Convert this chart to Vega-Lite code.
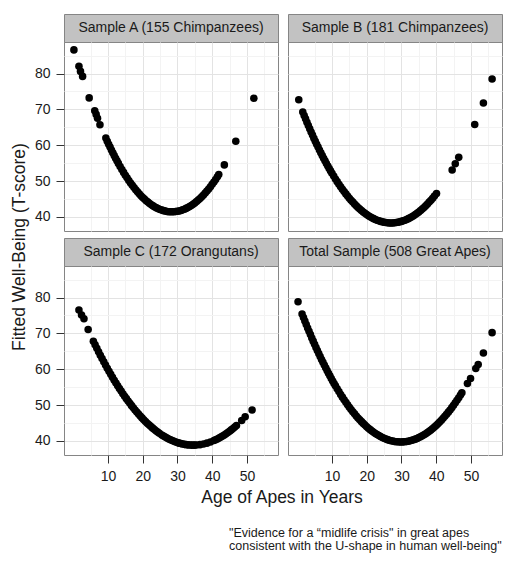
{
  "$schema": "https://vega.github.io/schema/vega-lite/v6.json",
  "padding": {"left": 10, "top": 13, "right": 5, "bottom": 5},
  "datasets": {
    "A": [
      {"age": 0.2, "wb": 86.6}, {"age": 1.65, "wb": 82.0}, {"age": 2.1, "wb": 80.6}, {"age": 2.7, "wb": 79.2},
      {"age": 4.6, "wb": 73.2}, {"age": 6.2, "wb": 69.6}, {"age": 6.6, "wb": 68.6}, {"age": 7.0, "wb": 67.5},
      {"age": 7.7, "wb": 65.7},
      {"age": 9.4, "wb": 61.98}, {"age": 9.8, "wb": 61.12}, {"age": 10.2, "wb": 60.28}, {"age": 10.6, "wb": 59.46},
      {"age": 11.0, "wb": 58.66}, {"age": 11.4, "wb": 57.87}, {"age": 11.8, "wb": 57.11}, {"age": 12.2, "wb": 56.36},
      {"age": 12.6, "wb": 55.63}, {"age": 13.0, "wb": 54.92}, {"age": 13.5, "wb": 54.05}, {"age": 14.0, "wb": 53.22},
      {"age": 14.5, "wb": 52.41}, {"age": 15.0, "wb": 51.63}, {"age": 15.5, "wb": 50.89}, {"age": 16.0, "wb": 50.16},
      {"age": 16.5, "wb": 49.47}, {"age": 17.0, "wb": 48.81}, {"age": 17.5, "wb": 48.17}, {"age": 18.0, "wb": 47.57},
      {"age": 18.5, "wb": 46.99}, {"age": 19.0, "wb": 46.44}, {"age": 19.5, "wb": 45.91}, {"age": 20.0, "wb": 45.42},
      {"age": 20.5, "wb": 44.96}, {"age": 21.0, "wb": 44.52}, {"age": 21.5, "wb": 44.11}, {"age": 22.0, "wb": 43.73},
      {"age": 22.5, "wb": 43.38}, {"age": 23, "wb": 43.06}, {"age": 23.5, "wb": 42.77}, {"age": 24, "wb": 42.50},
      {"age": 24.5, "wb": 42.27}, {"age": 25, "wb": 42.06}, {"age": 25.5, "wb": 41.88}, {"age": 26, "wb": 41.73},
      {"age": 26.5, "wb": 41.61}, {"age": 27, "wb": 41.51}, {"age": 27.5, "wb": 41.45}, {"age": 28, "wb": 41.41},
      {"age": 28.5, "wb": 41.40}, {"age": 29, "wb": 41.42}, {"age": 29.5, "wb": 41.47}, {"age": 30, "wb": 41.55},
      {"age": 30.5, "wb": 41.65}, {"age": 31, "wb": 41.79}, {"age": 31.5, "wb": 41.95}, {"age": 32, "wb": 42.14},
      {"age": 32.5, "wb": 42.36}, {"age": 33, "wb": 42.61}, {"age": 33.5, "wb": 42.88}, {"age": 34, "wb": 43.19},
      {"age": 34.5, "wb": 43.52}, {"age": 35, "wb": 43.88}, {"age": 35.5, "wb": 44.27}, {"age": 36, "wb": 44.69},
      {"age": 36.5, "wb": 45.14}, {"age": 37, "wb": 45.62}, {"age": 37.5, "wb": 46.12}, {"age": 38, "wb": 46.65},
      {"age": 38.5, "wb": 47.21}, {"age": 39, "wb": 47.80}, {"age": 39.5, "wb": 48.42}, {"age": 40, "wb": 49.07},
      {"age": 40.5, "wb": 49.75}, {"age": 41, "wb": 50.45}, {"age": 41.5, "wb": 51.18}, {"age": 41.9, "wb": 51.79},
      {"age": 43.5, "wb": 54.5}, {"age": 46.8, "wb": 61.1}, {"age": 52.0, "wb": 73.1}
    ],
    "B": [
      {"age": 0.45, "wb": 72.7},
      {"age": 1.6, "wb": 69.27}, {"age": 2.0, "wb": 68.30}, {"age": 2.4, "wb": 67.35}, {"age": 2.8, "wb": 66.41},
      {"age": 3.2, "wb": 65.49}, {"age": 3.6, "wb": 64.58}, {"age": 4.0, "wb": 63.69}, {"age": 4.4, "wb": 62.82},
      {"age": 4.8, "wb": 61.96}, {"age": 5.2, "wb": 61.11}, {"age": 5.6, "wb": 60.28}, {"age": 6.0, "wb": 59.47},
      {"age": 6.4, "wb": 58.67}, {"age": 6.8, "wb": 57.89}, {"age": 7.2, "wb": 57.12}, {"age": 7.6, "wb": 56.37},
      {"age": 8.0, "wb": 55.63}, {"age": 8.4, "wb": 54.91}, {"age": 8.8, "wb": 54.20}, {"age": 9.2, "wb": 53.51},
      {"age": 9.6, "wb": 52.83}, {"age": 10.0, "wb": 52.17}, {"age": 10.5, "wb": 51.37}, {"age": 11.0, "wb": 50.59},
      {"age": 11.5, "wb": 49.83}, {"age": 12.0, "wb": 49.10}, {"age": 12.5, "wb": 48.39}, {"age": 13.0, "wb": 47.71},
      {"age": 13.5, "wb": 47.05}, {"age": 14.0, "wb": 46.41}, {"age": 14.5, "wb": 45.80}, {"age": 15.0, "wb": 45.21},
      {"age": 15.5, "wb": 44.65}, {"age": 16.0, "wb": 44.11}, {"age": 16.5, "wb": 43.59}, {"age": 17.0, "wb": 43.10},
      {"age": 17.5, "wb": 42.63}, {"age": 18.0, "wb": 42.19}, {"age": 18.5, "wb": 41.77}, {"age": 19.0, "wb": 41.37},
      {"age": 19.5, "wb": 41.00}, {"age": 20.0, "wb": 40.65}, {"age": 20.5, "wb": 40.33}, {"age": 21, "wb": 40.03},
      {"age": 21.5, "wb": 39.75}, {"age": 22, "wb": 39.50}, {"age": 22.5, "wb": 39.27}, {"age": 23, "wb": 39.07},
      {"age": 23.5, "wb": 38.89}, {"age": 24, "wb": 38.73}, {"age": 24.5, "wb": 38.60}, {"age": 25, "wb": 38.49},
      {"age": 25.5, "wb": 38.41}, {"age": 26, "wb": 38.35}, {"age": 26.5, "wb": 38.31}, {"age": 27, "wb": 38.30},
      {"age": 27.5, "wb": 38.31}, {"age": 28, "wb": 38.35}, {"age": 28.5, "wb": 38.41}, {"age": 29, "wb": 38.49},
      {"age": 29.5, "wb": 38.60}, {"age": 30, "wb": 38.73}, {"age": 30.5, "wb": 38.89}, {"age": 31, "wb": 39.07},
      {"age": 31.5, "wb": 39.27}, {"age": 32, "wb": 39.50}, {"age": 32.5, "wb": 39.75}, {"age": 33, "wb": 40.03},
      {"age": 33.5, "wb": 40.33}, {"age": 34, "wb": 40.65}, {"age": 34.5, "wb": 41.00}, {"age": 35, "wb": 41.37},
      {"age": 35.5, "wb": 41.77}, {"age": 36, "wb": 42.19}, {"age": 36.5, "wb": 42.63}, {"age": 37, "wb": 43.10},
      {"age": 37.5, "wb": 43.59}, {"age": 38, "wb": 44.11}, {"age": 38.5, "wb": 44.65}, {"age": 39, "wb": 45.21},
      {"age": 39.5, "wb": 45.80}, {"age": 40.1, "wb": 46.54},
      {"age": 44.6, "wb": 53.1}, {"age": 45.5, "wb": 54.8}, {"age": 46.5, "wb": 56.6},
      {"age": 51.1, "wb": 65.8}, {"age": 53.6, "wb": 71.8}, {"age": 56.1, "wb": 78.5}
    ],
    "C": [
      {"age": 1.65, "wb": 76.5}, {"age": 2.4, "wb": 75.1}, {"age": 3.1, "wb": 74.1}, {"age": 4.3, "wb": 71.1},
      {"age": 5.8, "wb": 67.79}, {"age": 6.3, "wb": 66.79}, {"age": 6.8, "wb": 65.81}, {"age": 7.3, "wb": 64.84},
      {"age": 7.8, "wb": 63.89}, {"age": 8.3, "wb": 62.96}, {"age": 8.8, "wb": 62.05}, {"age": 9.3, "wb": 61.15},
      {"age": 9.8, "wb": 60.28}, {"age": 10.3, "wb": 59.41}, {"age": 10.8, "wb": 58.57}, {"age": 11.3, "wb": 57.75},
      {"age": 11.8, "wb": 56.94}, {"age": 12.3, "wb": 56.15}, {"age": 12.8, "wb": 55.38}, {"age": 13.3, "wb": 54.62},
      {"age": 13.8, "wb": 53.88}, {"age": 14.3, "wb": 53.16}, {"age": 14.8, "wb": 52.46}, {"age": 15.3, "wb": 51.78},
      {"age": 15.8, "wb": 51.11}, {"age": 16.3, "wb": 50.46}, {"age": 16.8, "wb": 49.83}, {"age": 17.3, "wb": 49.21},
      {"age": 17.8, "wb": 48.62}, {"age": 18.3, "wb": 48.04}, {"age": 18.8, "wb": 47.48}, {"age": 19.3, "wb": 46.93},
      {"age": 19.8, "wb": 46.41}, {"age": 20.3, "wb": 45.90}, {"age": 20.8, "wb": 45.41}, {"age": 21.3, "wb": 44.93},
      {"age": 21.8, "wb": 44.48}, {"age": 22.3, "wb": 44.04}, {"age": 22.8, "wb": 43.62}, {"age": 23.3, "wb": 43.22},
      {"age": 23.8, "wb": 42.83}, {"age": 24.3, "wb": 42.46}, {"age": 24.8, "wb": 42.11}, {"age": 25.5, "wb": 41.65},
      {"age": 26, "wb": 41.34}, {"age": 26.5, "wb": 41.05}, {"age": 27, "wb": 40.78}, {"age": 27.5, "wb": 40.52},
      {"age": 28, "wb": 40.29}, {"age": 28.5, "wb": 40.07}, {"age": 29, "wb": 39.86}, {"age": 29.5, "wb": 39.68},
      {"age": 30, "wb": 39.51}, {"age": 30.5, "wb": 39.36}, {"age": 31, "wb": 39.23}, {"age": 31.5, "wb": 39.12},
      {"age": 32, "wb": 39.02}, {"age": 32.5, "wb": 38.94}, {"age": 33, "wb": 38.88}, {"age": 33.5, "wb": 38.84},
      {"age": 34, "wb": 38.81}, {"age": 34.5, "wb": 38.80}, {"age": 35, "wb": 38.81}, {"age": 35.5, "wb": 38.84},
      {"age": 36.5, "wb": 38.94}, {"age": 37.5, "wb": 39.12}, {"age": 38.5, "wb": 39.36}, {"age": 39.5, "wb": 39.68},
      {"age": 40.5, "wb": 40.07}, {"age": 41, "wb": 40.29}, {"age": 41.5, "wb": 40.52}, {"age": 42, "wb": 40.78},
      {"age": 42.5, "wb": 41.05}, {"age": 43, "wb": 41.34}, {"age": 43.5, "wb": 41.65}, {"age": 44, "wb": 41.98},
      {"age": 44.5, "wb": 42.32}, {"age": 45, "wb": 42.68}, {"age": 45.5, "wb": 43.06}, {"age": 46, "wb": 43.46},
      {"age": 46.5, "wb": 43.87}, {"age": 47, "wb": 44.30},
      {"age": 48.5, "wb": 45.7}, {"age": 49.5, "wb": 46.7}, {"age": 51.5, "wb": 48.6}
    ],
    "T": [
      {"age": 0.24, "wb": 78.8},
      {"age": 1.4, "wb": 75.43}, {"age": 1.8, "wb": 74.43}, {"age": 2.2, "wb": 73.45}, {"age": 2.6, "wb": 72.47},
      {"age": 3.0, "wb": 71.52}, {"age": 3.4, "wb": 70.58}, {"age": 3.8, "wb": 69.65}, {"age": 4.2, "wb": 68.73},
      {"age": 4.6, "wb": 67.83}, {"age": 5.0, "wb": 66.95}, {"age": 5.4, "wb": 66.07}, {"age": 5.8, "wb": 65.22},
      {"age": 6.2, "wb": 64.37}, {"age": 6.6, "wb": 63.54}, {"age": 7.0, "wb": 62.73}, {"age": 7.4, "wb": 61.93},
      {"age": 7.8, "wb": 61.14}, {"age": 8.2, "wb": 60.37}, {"age": 8.6, "wb": 59.61}, {"age": 9.0, "wb": 58.87},
      {"age": 9.4, "wb": 58.14}, {"age": 9.8, "wb": 57.42}, {"age": 10.2, "wb": 56.72}, {"age": 10.6, "wb": 56.03},
      {"age": 11.0, "wb": 55.36}, {"age": 11.5, "wb": 54.54}, {"age": 12.0, "wb": 53.74}, {"age": 12.5, "wb": 52.96},
      {"age": 13.0, "wb": 52.20}, {"age": 13.5, "wb": 51.47}, {"age": 14.0, "wb": 50.76}, {"age": 14.5, "wb": 50.07},
      {"age": 15.0, "wb": 49.40}, {"age": 15.5, "wb": 48.76}, {"age": 16.0, "wb": 48.14}, {"age": 16.5, "wb": 47.54},
      {"age": 17.0, "wb": 46.96}, {"age": 17.5, "wb": 46.40}, {"age": 18.0, "wb": 45.87}, {"age": 18.5, "wb": 45.36},
      {"age": 19.0, "wb": 44.87}, {"age": 19.5, "wb": 44.40}, {"age": 20.0, "wb": 43.95}, {"age": 20.5, "wb": 43.53},
      {"age": 21.0, "wb": 43.13}, {"age": 21.5, "wb": 42.76}, {"age": 22, "wb": 42.40}, {"age": 22.5, "wb": 42.06},
      {"age": 23, "wb": 41.75}, {"age": 23.5, "wb": 41.46}, {"age": 24, "wb": 41.19}, {"age": 24.5, "wb": 40.94},
      {"age": 25, "wb": 40.72}, {"age": 25.5, "wb": 40.52}, {"age": 26, "wb": 40.34}, {"age": 26.5, "wb": 40.18},
      {"age": 27, "wb": 40.05}, {"age": 27.5, "wb": 39.93}, {"age": 28, "wb": 39.84}, {"age": 28.5, "wb": 39.77},
      {"age": 29, "wb": 39.73}, {"age": 29.5, "wb": 39.70}, {"age": 30, "wb": 39.70}, {"age": 30.5, "wb": 39.72},
      {"age": 31, "wb": 39.76}, {"age": 31.5, "wb": 39.83}, {"age": 32, "wb": 39.91}, {"age": 32.5, "wb": 40.02},
      {"age": 33, "wb": 40.15}, {"age": 33.5, "wb": 40.31}, {"age": 34, "wb": 40.48}, {"age": 34.5, "wb": 40.68},
      {"age": 35, "wb": 40.90}, {"age": 35.5, "wb": 41.14}, {"age": 36, "wb": 41.40}, {"age": 36.5, "wb": 41.69},
      {"age": 37, "wb": 42.00}, {"age": 37.5, "wb": 42.33}, {"age": 38, "wb": 42.68}, {"age": 38.5, "wb": 43.05},
      {"age": 39, "wb": 43.45}, {"age": 39.5, "wb": 43.87}, {"age": 40, "wb": 44.31}, {"age": 40.5, "wb": 44.77},
      {"age": 41, "wb": 45.26}, {"age": 41.5, "wb": 45.76}, {"age": 42, "wb": 46.29}, {"age": 42.5, "wb": 46.85},
      {"age": 43, "wb": 47.42}, {"age": 43.5, "wb": 48.01}, {"age": 44, "wb": 48.63}, {"age": 44.5, "wb": 49.27},
      {"age": 45, "wb": 49.94}, {"age": 45.5, "wb": 50.62}, {"age": 46, "wb": 51.33}, {"age": 46.5, "wb": 52.05},
      {"age": 47, "wb": 52.81}, {"age": 47.4, "wb": 53.42},
      {"age": 49.0, "wb": 56.0}, {"age": 49.9, "wb": 57.4}, {"age": 51.4, "wb": 60.2}, {"age": 52.1, "wb": 61.3},
      {"age": 53.6, "wb": 64.5}, {"age": 56.1, "wb": 70.2}
    ]
  },
  "title": {
    "text": ["\"Evidence for a “midlife crisis\" in great apes", "consistent with the U-shape in human well-being\""],
    "orient": "bottom",
    "anchor": "start",
    "frame": "group",
    "align": "left",
    "dx": 218,
    "offset": 20,
    "fontSize": 12.5,
    "fontWeight": "normal",
    "lineHeight": 12.5,
    "color": "#1a1a1a"
  },
  "spacing": 4,
  "hconcat": [
    {
      "width": 18,
      "height": 466,
      "data": {"values": [{"t": "Fitted Well-Being (T-score)"}]},
      "mark": {"type": "text", "angle": 270, "fontSize": 17.5, "color": "#1a1a1a"},
      "encoding": {"text": {"field": "t"}}
    },
    {
      "spacing": 5,
      "vconcat": [
        {
          "spacing": 8,
          "hconcat": [
            {
              "spacing": 0,
              "bounds": "flush",
              "vconcat": [
                {
                  "width": 214, "height": 28,
                  "view": {"fill": "#c2c2c2", "stroke": "#858585"},
                  "data": {"values": [{"label": "Sample A (155 Chimpanzees)"}]},
                  "mark": {"type": "text", "fontSize": 14, "color": "#1a1a1a"},
                  "encoding": {"text": {"field": "label"}}
                },
                {
                  "width": 214, "height": 189,
                  "view": {"stroke": "#858585"},
                  "data": {"name": "A"},
                  "mark": {"type": "circle", "size": 57, "color": "#000000", "opacity": 1},
                  "encoding": {
                    "x": {"field": "age", "type": "quantitative", "scale": {"domain": [-2.65, 58.95], "nice": false, "zero": false},
                      "axis": {"values": [5, 10, 15, 20, 25, 30, 35, 40, 45, 50, 55], "title": null, "domain": false, "ticks": false, "labels": false, "grid": true,
                        "gridColor": {"condition": {"test": "datum.value % 10 === 0", "value": "#e3e3e3"}, "value": "#f3f3f3"}}},
                    "y": {"field": "wb", "type": "quantitative", "scale": {"domain": [36.05, 88.8], "nice": false, "zero": false},
                      "axis": {"values": [40, 45, 50, 55, 60, 65, 70, 75, 80, 85], "title": null, "domain": false, "grid": true,
                        "gridColor": {"condition": {"test": "datum.value % 10 === 0", "value": "#e3e3e3"}, "value": "#f3f3f3"},
                        "tickSize": 8, "tickColor": "#333333",
                        "tickOpacity": {"condition": {"test": "datum.value % 10 === 0", "value": 1}, "value": 0},
                        "labelExpr": "datum.value % 10 === 0 ? datum.label : ''",
                        "labelFontSize": 14, "labelColor": "#1a1a1a", "labelPadding": 6, "labelOverlap": false, "labelFlush": false}}
                  }
                }
              ]
            },
            {
              "spacing": 0,
              "bounds": "flush",
              "vconcat": [
                {
                  "width": 214, "height": 28,
                  "view": {"fill": "#c2c2c2", "stroke": "#858585"},
                  "data": {"values": [{"label": "Sample B (181 Chimpanzees)"}]},
                  "mark": {"type": "text", "fontSize": 14, "color": "#1a1a1a"},
                  "encoding": {"text": {"field": "label"}}
                },
                {
                  "width": 214, "height": 189,
                  "view": {"stroke": "#858585"},
                  "data": {"name": "B"},
                  "mark": {"type": "circle", "size": 57, "color": "#000000", "opacity": 1},
                  "encoding": {
                    "x": {"field": "age", "type": "quantitative", "scale": {"domain": [-2.65, 58.95], "nice": false, "zero": false},
                      "axis": {"values": [5, 10, 15, 20, 25, 30, 35, 40, 45, 50, 55], "title": null, "domain": false, "ticks": false, "labels": false, "grid": true,
                        "gridColor": {"condition": {"test": "datum.value % 10 === 0", "value": "#e3e3e3"}, "value": "#f3f3f3"}}},
                    "y": {"field": "wb", "type": "quantitative", "scale": {"domain": [36.05, 88.8], "nice": false, "zero": false},
                      "axis": {"values": [40, 45, 50, 55, 60, 65, 70, 75, 80, 85], "title": null, "domain": false, "ticks": false, "labels": false, "grid": true,
                        "gridColor": {"condition": {"test": "datum.value % 10 === 0", "value": "#e3e3e3"}, "value": "#f3f3f3"}}}
                  }
                }
              ]
            }
          ]
        },
        {
          "spacing": 8,
          "hconcat": [
            {
              "spacing": 0,
              "bounds": "flush",
              "vconcat": [
                {
                  "width": 214, "height": 28,
                  "view": {"fill": "#c2c2c2", "stroke": "#858585"},
                  "data": {"values": [{"label": "Sample C (172 Orangutans)"}]},
                  "mark": {"type": "text", "fontSize": 14, "color": "#1a1a1a"},
                  "encoding": {"text": {"field": "label"}}
                },
                {
                  "width": 214, "height": 189,
                  "view": {"stroke": "#858585"},
                  "data": {"name": "C"},
                  "mark": {"type": "circle", "size": 57, "color": "#000000", "opacity": 1},
                  "encoding": {
                    "x": {"field": "age", "type": "quantitative", "scale": {"domain": [-2.65, 58.95], "nice": false, "zero": false},
                      "axis": {"values": [5, 10, 15, 20, 25, 30, 35, 40, 45, 50, 55], "title": null, "domain": false, "grid": true,
                        "gridColor": {"condition": {"test": "datum.value % 10 === 0", "value": "#e3e3e3"}, "value": "#f3f3f3"},
                        "tickSize": 8, "tickColor": "#333333",
                        "tickOpacity": {"condition": {"test": "datum.value % 10 === 0", "value": 1}, "value": 0},
                        "labelExpr": "datum.value % 10 === 0 ? datum.label : ''",
                        "labelFontSize": 14, "labelColor": "#1a1a1a", "labelPadding": 6, "labelOverlap": false, "labelFlush": false}},
                    "y": {"field": "wb", "type": "quantitative", "scale": {"domain": [36.05, 88.8], "nice": false, "zero": false},
                      "axis": {"values": [40, 45, 50, 55, 60, 65, 70, 75, 80, 85], "title": null, "domain": false, "grid": true,
                        "gridColor": {"condition": {"test": "datum.value % 10 === 0", "value": "#e3e3e3"}, "value": "#f3f3f3"},
                        "tickSize": 8, "tickColor": "#333333",
                        "tickOpacity": {"condition": {"test": "datum.value % 10 === 0", "value": 1}, "value": 0},
                        "labelExpr": "datum.value % 10 === 0 ? datum.label : ''",
                        "labelFontSize": 14, "labelColor": "#1a1a1a", "labelPadding": 6, "labelOverlap": false, "labelFlush": false}}
                  }
                }
              ]
            },
            {
              "spacing": 0,
              "bounds": "flush",
              "vconcat": [
                {
                  "width": 214, "height": 28,
                  "view": {"fill": "#c2c2c2", "stroke": "#858585"},
                  "data": {"values": [{"label": "Total Sample (508 Great Apes)"}]},
                  "mark": {"type": "text", "fontSize": 14, "color": "#1a1a1a"},
                  "encoding": {"text": {"field": "label"}}
                },
                {
                  "width": 214, "height": 189,
                  "view": {"stroke": "#858585"},
                  "data": {"name": "T"},
                  "mark": {"type": "circle", "size": 57, "color": "#000000", "opacity": 1},
                  "encoding": {
                    "x": {"field": "age", "type": "quantitative", "scale": {"domain": [-2.65, 58.95], "nice": false, "zero": false},
                      "axis": {"values": [5, 10, 15, 20, 25, 30, 35, 40, 45, 50, 55], "title": null, "domain": false, "grid": true,
                        "gridColor": {"condition": {"test": "datum.value % 10 === 0", "value": "#e3e3e3"}, "value": "#f3f3f3"},
                        "tickSize": 8, "tickColor": "#333333",
                        "tickOpacity": {"condition": {"test": "datum.value % 10 === 0", "value": 1}, "value": 0},
                        "labelExpr": "datum.value % 10 === 0 ? datum.label : ''",
                        "labelFontSize": 14, "labelColor": "#1a1a1a", "labelPadding": 6, "labelOverlap": false, "labelFlush": false}},
                    "y": {"field": "wb", "type": "quantitative", "scale": {"domain": [36.05, 88.8], "nice": false, "zero": false},
                      "axis": {"values": [40, 45, 50, 55, 60, 65, 70, 75, 80, 85], "title": null, "domain": false, "ticks": false, "labels": false, "grid": true,
                        "gridColor": {"condition": {"test": "datum.value % 10 === 0", "value": "#e3e3e3"}, "value": "#f3f3f3"}}}
                  }
                }
              ]
            }
          ]
        },
        {
          "width": 436,
          "height": 18,
          "data": {"values": [{"t": "Age of Apes in Years"}]},
          "mark": {"type": "text", "fontSize": 17.5, "color": "#1a1a1a"},
          "encoding": {"text": {"field": "t"}}
        }
      ]
    }
  ],
  "config": {
    "font": "Liberation Sans",
    "view": {"stroke": null}
  }
}
